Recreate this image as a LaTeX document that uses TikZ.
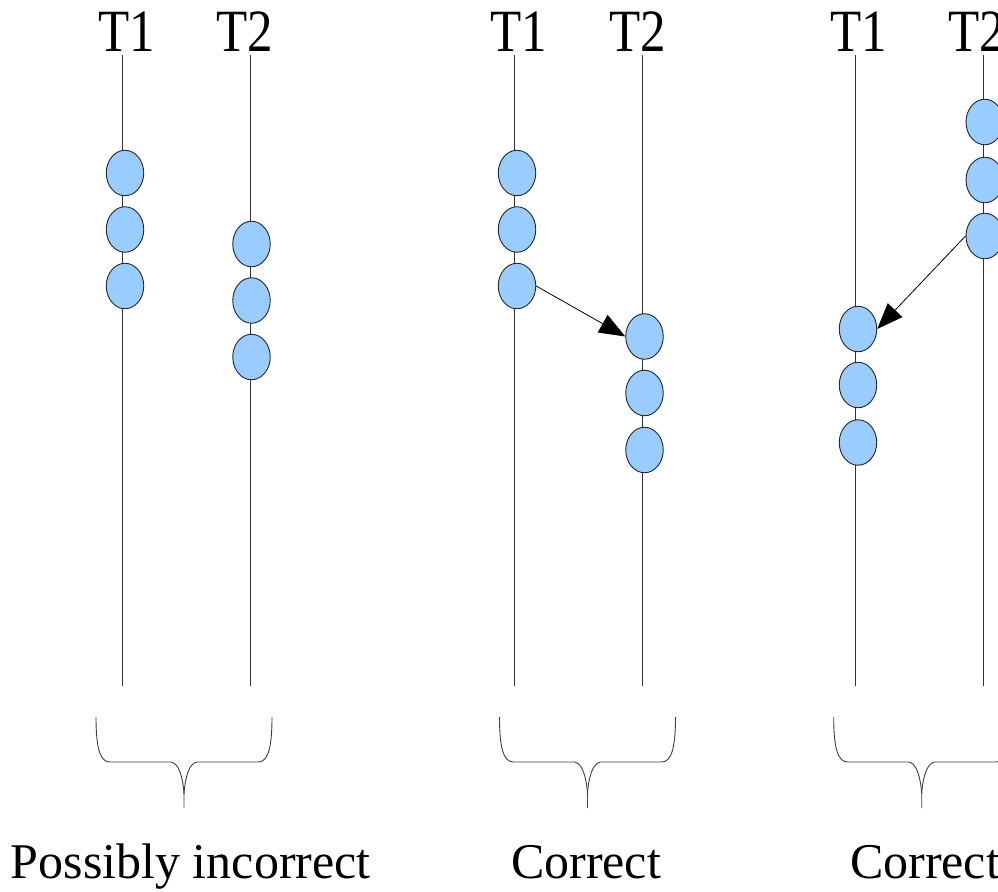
\documentclass[tikz,border=0pt]{standalone}
\usepackage{fontspec}
\setmainfont{Liberation Serif}
\usetikzlibrary{shapes.geometric,arrows.meta}
\definecolor{evfill}{HTML}{99CCFF}
\begin{document}
\begin{tikzpicture}[x=1pt,y=-1pt,
  tline/.style={draw=black!80,line width=0.9pt},
  ev/.style={ellipse,draw=black!85,line width=0.9pt,fill=evfill,minimum width=37.5pt,minimum height=45.5pt,inner sep=0pt},
  msg/.style={draw=black,line width=0.8pt,-{Triangle[length=26pt,width=20pt]}},
  bracel/.style={draw=black!75,line width=0.9pt},
  toplab/.style={anchor=base,inner sep=0pt,font=\fontsize{60}{66}\selectfont},
  botlab/.style={anchor=base,inner sep=0pt,font=\fontsize{50}{56}\selectfont}]
\useasboundingbox (0,0) rectangle (998,891);
\clip (0,0) rectangle (998,891);

% time lines
\foreach \n/\x in {aA/122.3,aB/250.7,bA/514.5,bB/642.5,cA/855,cB/983.3}{
  \coordinate (\n top) at (\x,55);
  \coordinate (\n bot) at (\x,686);
  \draw[tline] (\n top) -- (\n bot);
}

% top labels
\node[toplab] (laA) at (126.5,51.7) {\scalebox{0.85}[1]{T1}};
\node[toplab] (laB) at (244.5,51.7) {\scalebox{0.85}[1]{T2}};
\node[toplab] (lbA) at (519,51.7) {\scalebox{0.85}[1]{T1}};
\node[toplab] (lbB) at (637.5,51.7) {\scalebox{0.85}[1]{T2}};
\node[toplab] (lcA) at (859,51.7) {\scalebox{0.85}[1]{T1}};
\node[toplab] (lcB) at (977,51.7) {\scalebox{0.85}[1]{T2}};

% events
\node[ev] (a1) at (125,173) {};
\node[ev] (a2) at (125,229.5) {};
\node[ev] (a3) at (125,286) {};
\node[ev] (a4) at (251.5,244) {};
\node[ev] (a5) at (251.5,300.5) {};
\node[ev] (a6) at (251.5,357) {};

\node[ev] (b1) at (517,173) {};
\node[ev] (b2) at (517,229.5) {};
\node[ev] (b3) at (517,286) {};
\node[ev] (b4) at (644.5,336.5) {};
\node[ev] (b5) at (644.5,393) {};
\node[ev] (b6) at (644.5,450) {};

\node[ev] (c1) at (984.75,122) {};
\node[ev] (c2) at (984.75,180) {};
\node[ev] (c3) at (984.75,236) {};
\node[ev] (c4) at (858,329) {};
\node[ev] (c5) at (858,385) {};
\node[ev] (c6) at (858,442.5) {};

% messages
\draw[msg] (b3.east) -- (b4.west);
\draw[msg] (c3.west) -- (c4.east);

% braces
\foreach \cx in {184,587.5,921.7}{
  \begin{scope}[xshift=\cx pt]
    \draw[bracel] (-88,717) .. controls (-88,748) and (-84,762) .. (-74,762) -- (-13,762)
      .. controls (-5,763) and (-1,778) .. (0,794) -- (0,808);
    \draw[bracel] (0,794) .. controls (1,778) and (5,763) .. (13,762) -- (74,762)
      .. controls (84,762) and (88,748) .. (88,717);
  \end{scope}
}

% bottom labels
\node[botlab] (l1) at (190.8,878) {Possibly incorrect};
\node[botlab] (l2) at (586,878) {Correct};
\node[botlab] (l3) at (925,878) {Correct};
\end{tikzpicture}
\end{document}
